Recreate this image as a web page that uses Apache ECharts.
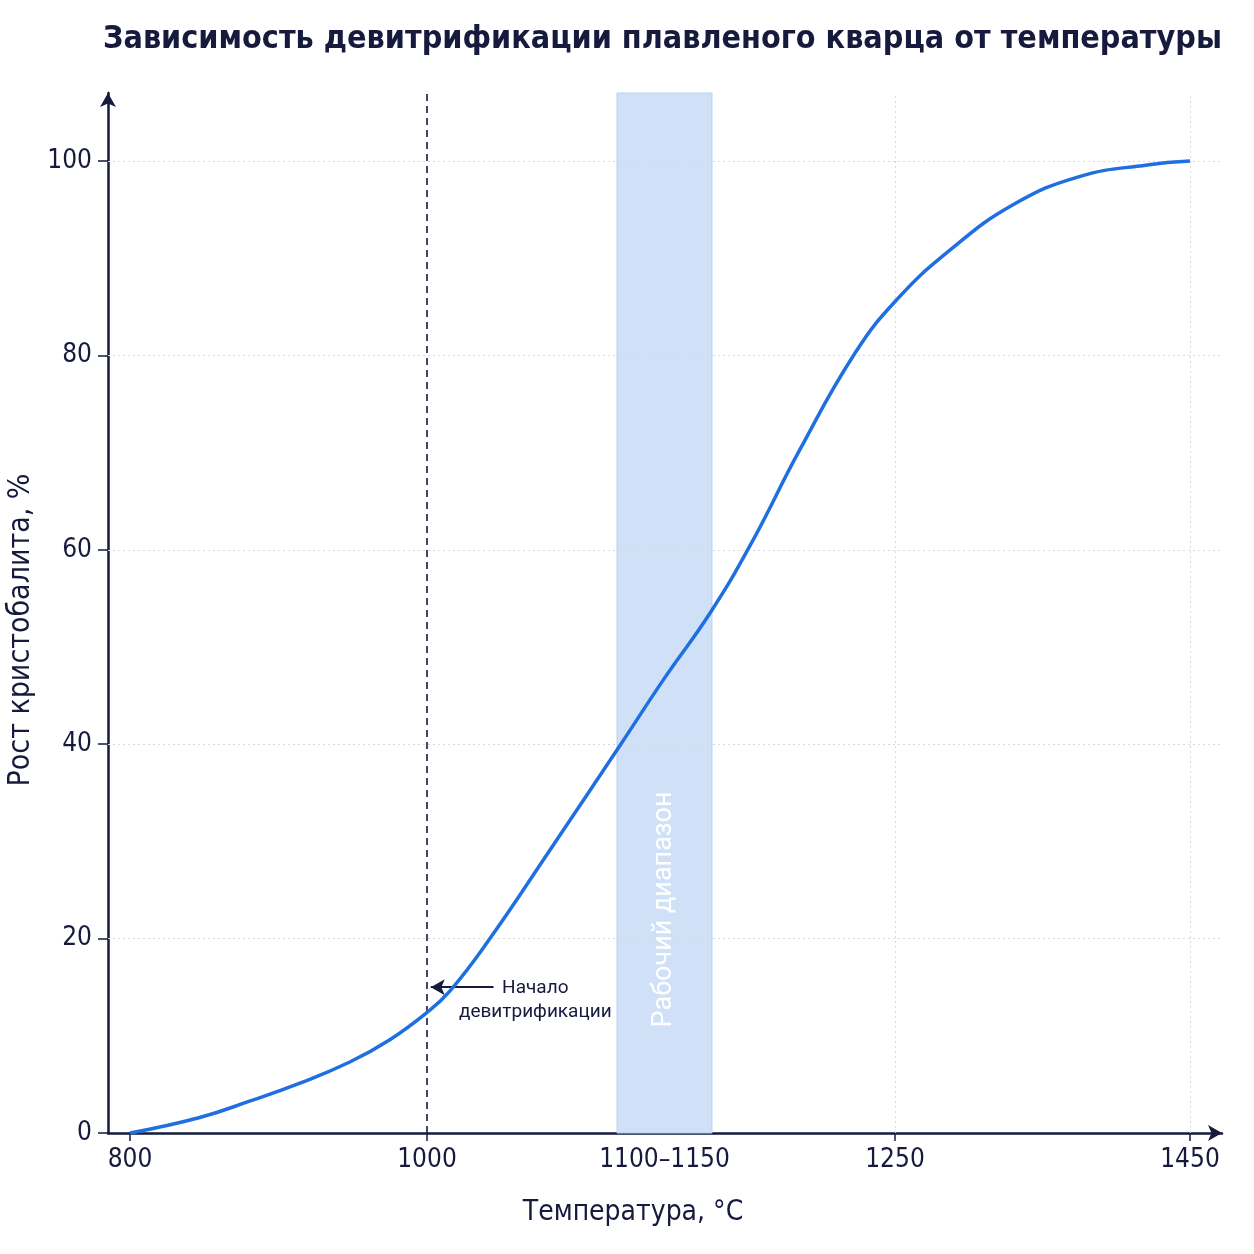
<!DOCTYPE html>
<html lang="ru">
<head>
<meta charset="UTF-8" />
<title>Девитрификация плавленого кварца</title>
<script src="https://cdn.jsdelivr.net/npm/echarts@6.0.0/dist/echarts.min.js"></script>
<style>
  html, body { margin: 0; padding: 0; background: #fff; }
  #chart { width: 1254px; height: 1254px; }
</style>
</head>
<body>
<div id="chart"></div>
<script>
// температура, °C
var temps = [800, 847, 881, 914, 948, 975, 1000, 1012, 1032, 1065, 1102, 1125, 1149, 1171, 1198, 1228, 1251, 1287, 1330, 1375, 1421, 1450];
// рост кристобалита, %
var growth = [0, 1.6, 3.3, 5.1, 7.3, 9.6, 12.4, 14.6, 19.7, 29.2, 40, 46.8, 53.5, 60.5, 70.3, 80.2, 85.7, 90.8, 95.5, 98.4, 99.6, 100];

var tickTemps = [800, 1000, 1125, 1250, 1450];
var tickLabels = ['800', '1000', '1100–1150', '1250', '1450'];
var markTemps = [800, 1000, 1250, 1450];
var yTicks = [0, 20, 40, 60, 80, 100];

var onsetTemp = 1000;
var workRange = [1100, 1150];
var gridTemps = [1250, 1450];

// ось X на картинке неравномерная: опорные температуры -> условные единицы оси
var scaleTemps = [800, 1000, 1100, 1150, 1250, 1450];
var scaleUnits = [0, 297, 487, 582, 765, 1060];

function tpos(t) {
  for (var i = 0; i < scaleTemps.length - 1; i++) {
    if (t <= scaleTemps[i + 1] || i === scaleTemps.length - 2) {
      var k = (t - scaleTemps[i]) / (scaleTemps[i + 1] - scaleTemps[i]);
      return scaleUnits[i] + k * (scaleUnits[i + 1] - scaleUnits[i]);
    }
  }
}

var NAVY = '#161a3c';
var NARROW = "'Liberation Sans Narrow', 'Arial Narrow', 'DejaVu Sans Condensed', Roboto, sans-serif";
var PLAIN = "Roboto, 'Noto Sans', sans-serif";

var chart = echarts.init(document.getElementById('chart'));

var gridLine = { color: '#d6d9e0', width: 1, type: [2, 3] };
var markLines = [];
yTicks.slice(1).forEach(function (v) {
  markLines.push({ yAxis: v, lineStyle: gridLine });
});
gridTemps.forEach(function (t) {
  markLines.push({ xAxis: tpos(t), lineStyle: gridLine });
});
markLines.push({ xAxis: tpos(onsetTemp), lineStyle: { color: NAVY, width: 1.6, type: [7, 5] } });
// стрелка «Начало девитрификации»
markLines.push([
  { coord: [tpos(1002), 15], symbol: 'arrow', symbolSize: [12, 14], lineStyle: { color: NAVY, width: 2, type: 'solid' } },
  { coord: [tpos(1035), 15], symbol: 'none' }
]);

var option = {
  backgroundColor: '#fff',
  animation: false,
  textStyle: { fontFamily: NARROW },
  title: {
    text: 'Зависимость девитрификации плавленого кварца от температуры',
    left: 98,
    top: 19,
    textStyle: { fontFamily: NARROW, fontSize: 32, fontWeight: 'bold', color: NAVY }
  },
  grid: { left: 108, right: 32, top: 93, bottom: 121, containLabel: false, outerBoundsMode: 'none' },
  xAxis: {
    type: 'value',
    min: -22,
    max: 1092,
    name: 'Температура, °C',
    nameLocation: 'middle',
    nameGap: 66,
    nameTextStyle: { fontSize: 28, color: NAVY, padding: [0, 64, 0, 0] },
    axisLine: { onZero: false, lineStyle: { color: NAVY, width: 2.5 }, symbol: ['none', 'arrow'], symbolSize: [12, 14] },
    axisTick: {
      show: true, length: 8, lineStyle: { color: NAVY, width: 1.5 },
      customValues: markTemps.map(tpos)
    },
    axisLabel: {
      fontSize: 26, color: NAVY, margin: 14,
      customValues: tickTemps.map(tpos),
      formatter: function (v) {
        for (var i = 0; i < tickTemps.length; i++) {
          if (Math.abs(tpos(tickTemps[i]) - v) < 0.5) return tickLabels[i];
        }
        return '';
      }
    },
    splitLine: { show: false }
  },
  yAxis: {
    type: 'value',
    min: 0,
    max: 107,
    name: 'Рост кристобалита, %',
    nameLocation: 'middle',
    nameGap: 70,
    nameTextStyle: { fontSize: 30, color: NAVY, padding: [0, 34, 0, 0] },
    axisLine: { show: true, onZero: false, lineStyle: { color: NAVY, width: 2.5 }, symbol: ['none', 'arrow'], symbolSize: [12, 14] },
    axisTick: { show: true, length: 10, lineStyle: { color: NAVY, width: 1.5 }, customValues: yTicks },
    axisLabel: { fontSize: 26, color: NAVY, margin: 16, customValues: yTicks },
    splitLine: { show: false }
  },
  series: [{
    type: 'line',
    data: temps.map(function (t, i) { return [tpos(t), growth[i]]; }),
    smooth: 0.45,
    showSymbol: false,
    lineStyle: { color: '#1f6fe0', width: 3.5 },
    z: 5,
    markArea: {
      silent: true,
      itemStyle: { color: '#cfe0f7', borderColor: '#b9d0f1', borderWidth: 1 },
      data: [[{ xAxis: tpos(workRange[0]), yAxis: 107 }, { xAxis: tpos(workRange[1]), yAxis: 0 }]]
    },
    markLine: {
      silent: true,
      symbol: ['none', 'none'],
      label: { show: false },
      data: markLines
    }
  }]
};

chart.setOption(option);

var bandPt = chart.convertToPixel({ gridIndex: 0 }, [tpos((workRange[0] + workRange[1]) / 2), 23]);
var notePt = chart.convertToPixel({ gridIndex: 0 }, [tpos(1057), 13.7]);

chart.setOption({
  graphic: [
    {
      type: 'text',
      x: bandPt[0],
      y: bandPt[1],
      rotation: Math.PI / 2,
      z: 10,
      style: {
        text: 'Рабочий диапазон',
        fill: '#ffffff',
        font: '27px ' + PLAIN,
        align: 'center',
        verticalAlign: 'middle'
      }
    },
    {
      type: 'text',
      x: notePt[0],
      y: notePt[1],
      z: 10,
      style: {
        text: 'Начало\nдевитрификации',
        fill: NAVY,
        font: '19px ' + PLAIN,
        lineHeight: 24,
        align: 'center',
        verticalAlign: 'middle'
      }
    }
  ]
});
</script>
</body>
</html>
